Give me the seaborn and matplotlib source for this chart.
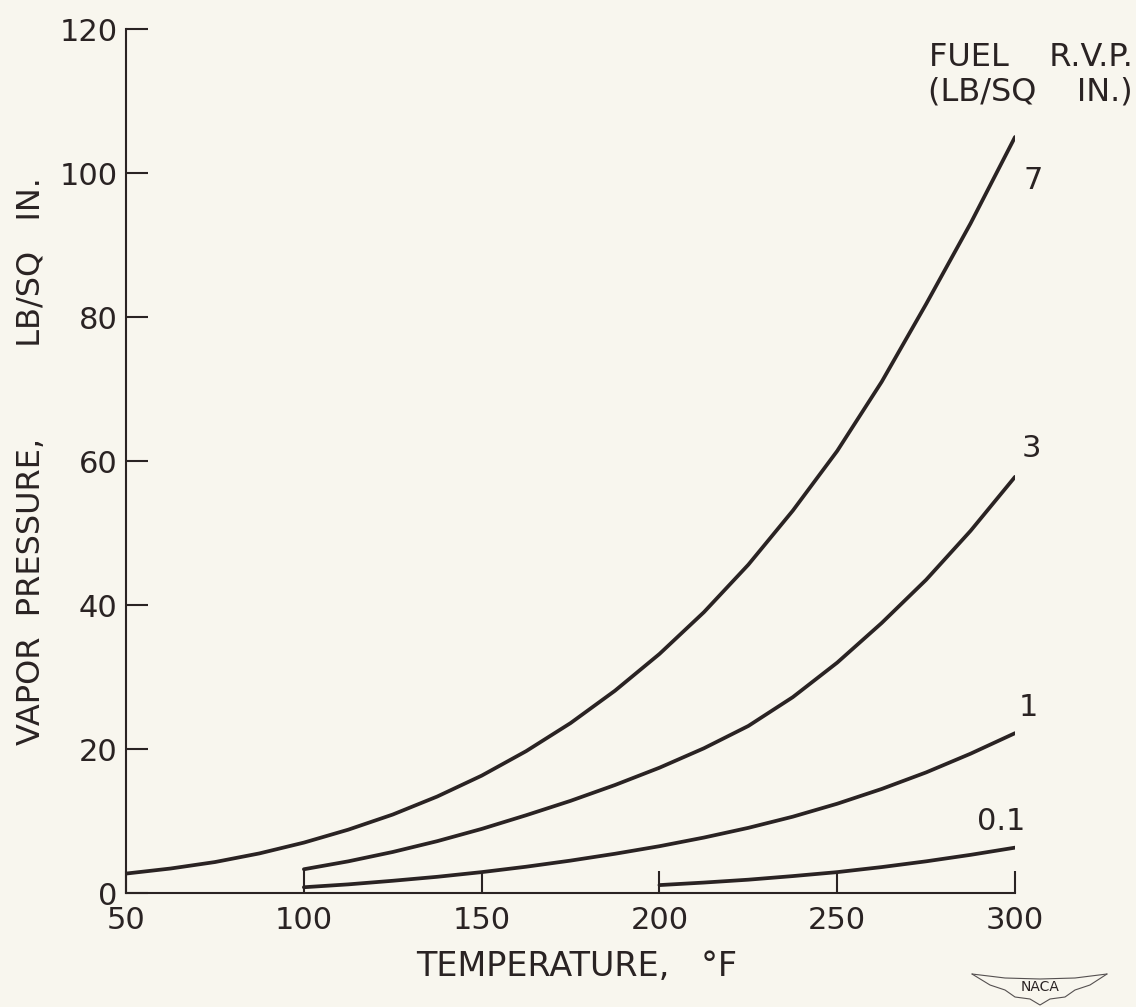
import numpy as np
import pandas as pd
import matplotlib.pyplot as plt
from matplotlib.lines import Line2D
import seaborn as sns

# values (temperature F -> vapor pressure lb/sq in)
temp_7 = [50, 62.5, 75, 87.5, 100, 112.5, 125, 137.5, 150, 162.5, 175, 187.5,
          200, 212.5, 225, 237.5, 250, 262.5, 275, 287.5, 300]
vp_7 = [2.7, 3.4, 4.3, 5.5, 7.0, 8.8, 10.9, 13.4, 16.3, 19.7, 23.6, 28.1,
        33.2, 39.0, 45.6, 53.1, 61.4, 71.0, 81.8, 93.0, 105.0]

temp_3 = [100, 112.5, 125, 137.5, 150, 162.5, 175, 187.5, 200, 212.5, 225,
          237.5, 250, 262.5, 275, 287.5, 300]
vp_3 = [3.3, 4.4, 5.7, 7.2, 8.9, 10.8, 12.8, 15.0, 17.4, 20.1, 23.2,
        27.2, 32.0, 37.5, 43.5, 50.3, 57.8]

temp_1 = [100, 112.5, 125, 137.5, 150, 162.5, 175, 187.5, 200, 212.5, 225,
          237.5, 250, 262.5, 275, 287.5, 300]
vp_1 = [0.8, 1.2, 1.7, 2.25, 2.9, 3.65, 4.5, 5.45, 6.5, 7.7, 9.05,
        10.6, 12.4, 14.45, 16.75, 19.35, 22.2]

temp_01 = [200, 212.5, 225, 237.5, 250, 262.5, 275, 287.5, 300]
vp_01 = [1.1, 1.45, 1.85, 2.35, 2.9, 3.6, 4.4, 5.3, 6.3]

rvp_labels = ['7', '3', '1', '0.1']
# where the curve labels sit (data coords)
label_pos = [(305, 99), (304.5, 61.8), (303.7, 25.8), (296, 9.9)]

x_ticks = [50, 100, 150, 200, 250, 300]
y_ticks = [0, 20, 40, 60, 80, 100, 120]

ink = '#2a2323'
paper = '#f8f6ee'

# long form table for seaborn
frames = []
for name, t, v in zip(rvp_labels, [temp_7, temp_3, temp_1, temp_01], [vp_7, vp_3, vp_1, vp_01]):
    frames.append(pd.DataFrame({'temp': t, 'vp': v, 'rvp': name}))
df = pd.concat(frames, ignore_index=True)

sns.set_theme(style='ticks')
plt.rcParams['font.family'] = ['DejaVu Sans']
plt.rcParams['text.color'] = ink
plt.rcParams['axes.labelcolor'] = ink
plt.rcParams['lines.solid_joinstyle'] = 'round'

fig = plt.figure(figsize=(11.36, 10.07), dpi=100)
fig.patch.set_facecolor(paper)
ax = fig.add_axes([0.111, 0.1132, 0.7825, 0.858])
ax.set_facecolor(paper)

sns.lineplot(data=df, x='temp', y='vp', hue='rvp', units='rvp', estimator=None,
             palette={k: ink for k in rvp_labels}, legend=False, lw=2.7,
             sort=False, ax=ax)

for lab, (lx, ly) in zip(rvp_labels, label_pos):
    ax.text(lx, ly, lab, fontsize=22, ha='center', va='center', color=ink, clip_on=False)

W, H = 1136.0, 1007.0
def fx(p):
    return p / W
def fy(p):
    return 1 - p / H

# series key in the upper right corner
fig.text(fx(1133), fy(57), 'FUEL    R.V.P.', fontsize=23, ha='right', va='center', color=ink)
fig.text(fx(1133), fy(92), '(LB/SQ    IN.)', fontsize=23, ha='right', va='center', color=ink)

ax.set_xlim(50, 300)
ax.set_ylim(0, 120)
ax.set_xticks(x_ticks)
ax.set_yticks(y_ticks)
ax.tick_params(axis='both', direction='in', length=16, width=1.5, labelsize=22, colors=ink)
ax.tick_params(axis='x', pad=9)
ax.tick_params(axis='y', pad=6)
ax.set_xlabel('TEMPERATURE,   °F', fontsize=24)
ax.xaxis.set_label_coords(0.507, -0.066)
ax.set_ylabel('VAPOR  PRESSURE,         LB/SQ   IN.', fontsize=23)
ax.yaxis.set_label_coords(-0.106, 0.5)
ax.yaxis.label.set_va('center')

sns.despine(ax=ax)
for s in ['left', 'bottom']:
    ax.spines[s].set_linewidth(1.5)
    ax.spines[s].set_color(ink)

# small NACA wing mark in the corner
wing_top = [(972, 974), (1005, 978), (1040, 979), (1075, 978), (1107, 974)]
wing_bot = [(972, 974), (990, 985), (1005, 990), (1015, 997), (1030, 999), (1040, 1005),
            (1050, 999), (1065, 997), (1075, 990), (1090, 985), (1107, 974)]
for pts in [wing_top, wing_bot]:
    xs = [fx(p[0]) for p in pts]
    ys = [fy(p[1]) for p in pts]
    fig.add_artist(Line2D(xs, ys, transform=fig.transFigure, color='#555050', lw=0.8))
fig.text(fx(1040), fy(987), 'NACA', fontsize=10, ha='center', va='center', color=ink)

fig.savefig('out.png', dpi=100, facecolor=paper)
